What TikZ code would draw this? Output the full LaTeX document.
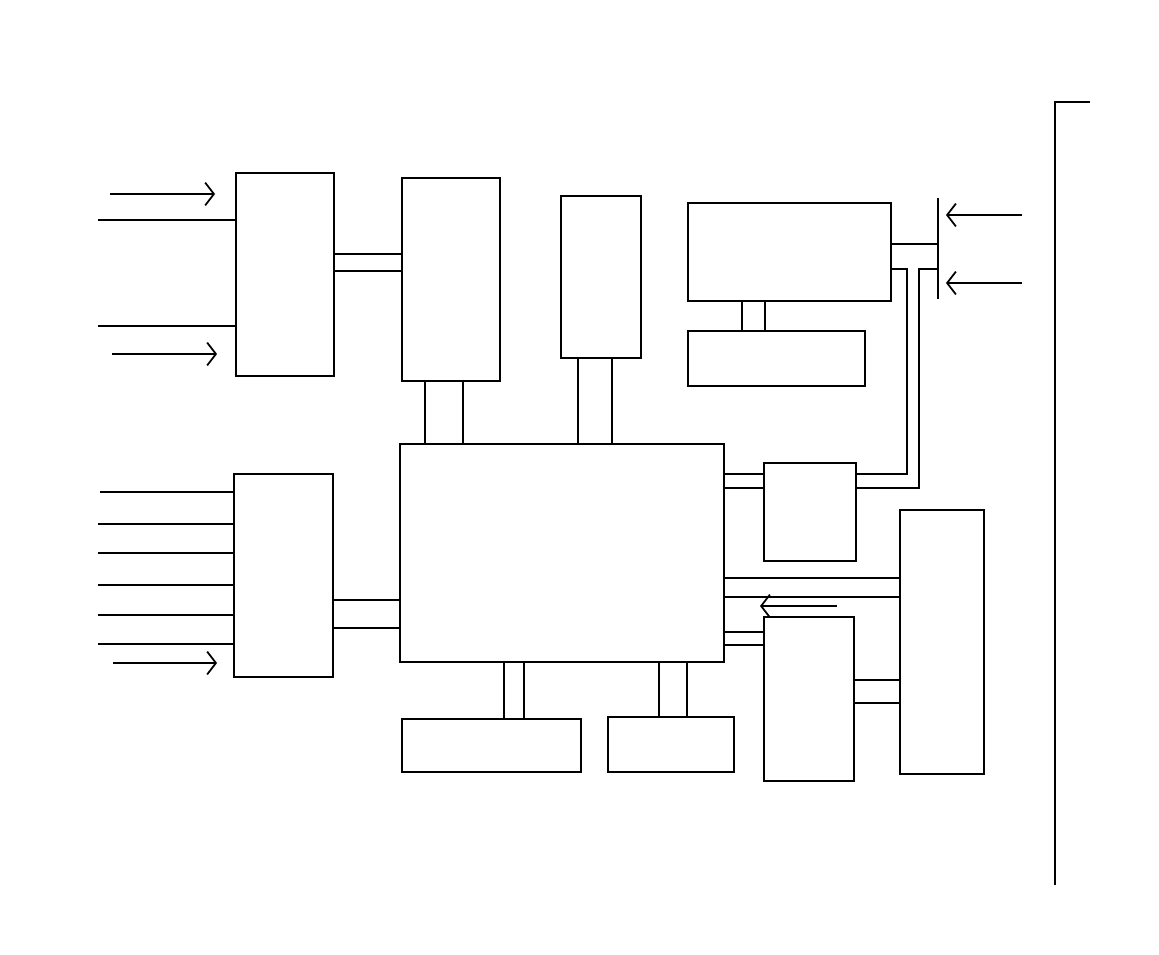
\documentclass[tikz,border=0pt]{standalone}
\usetikzlibrary{arrows.meta}
\tikzset{
  blocco/.style = {rectangle, draw, line width=1.1pt, fill=white, inner sep=0},
  link/.style   = {line width=1pt},
  ing/.style    = {line width=1pt, -{Straight Barb[length=5pt,width=13pt,line width=1pt]}}
}

\begin{document}
\begin{tikzpicture}[x=0.02cm, y=-0.02cm]
  \useasboundingbox (0,0) rectangle (1159,954);
  % blocchi
  \node[blocco, minimum width=1.96cm, minimum height=4.06cm] (A) at (285,274.5) {};
  \node[blocco, minimum width=1.96cm, minimum height=4.06cm] (B) at (451,279.5) {};
  \node[blocco, minimum width=1.60cm, minimum height=3.24cm] (C) at (601,277) {};
  \node[blocco, minimum width=4.06cm, minimum height=1.96cm] (D) at (789.5,252) {};
  \node[blocco, minimum width=3.54cm, minimum height=1.10cm] (E) at (776.5,358.5) {};
  \node[blocco, minimum width=6.48cm, minimum height=4.36cm] (M) at (562,553) {};
  \node[blocco, minimum width=1.98cm, minimum height=4.06cm] (F) at (283.5,575.5) {};
  \node[blocco, minimum width=1.84cm, minimum height=1.96cm] (G) at (810,512) {};
  \node[blocco, minimum width=1.80cm, minimum height=3.28cm] (H) at (809,699) {};
  \node[blocco, minimum width=1.68cm, minimum height=5.28cm] (I) at (942,642) {};
  \node[blocco, minimum width=3.58cm, minimum height=1.06cm] (J) at (491.5,745.5) {};
  \node[blocco, minimum width=2.52cm, minimum height=1.10cm] (K) at (671,744.5) {};

  % ingressi a sinistra di A
  \coordinate (a1) at (110,194); \draw[ing, shorten >=0.4cm] (a1) -- (A.west |- a1);
  \coordinate (a2) at (98,220);  \draw[link] (a2) -- (A.west |- a2);
  \coordinate (a3) at (98,326);  \draw[link] (a3) -- (A.west |- a3);
  \coordinate (a4) at (112,354); \draw[ing, shorten >=0.36cm] (a4) -- (A.west |- a4);

  % ingressi a sinistra di F
  \coordinate (f0) at (100,492); \draw[link] (f0) -- (F.west |- f0);
  \foreach \yy [count=\i] in {524,553,585,615,644}{
    \coordinate (f\i) at (98,\yy); \draw[link] (f\i) -- (F.west |- f\i);
  }
  \coordinate (f6) at (113,663); \draw[ing, shorten >=0.32cm] (f6) -- (F.west |- f6);

  % collegamenti doppi
  \draw[link] (A.east |- 0,254) -- (B.west |- 0,254);
  \draw[link] (A.east |- 0,271) -- (B.west |- 0,271);
  \draw[link] (B.south -| 425,0) -- (M.north -| 425,0);
  \draw[link] (B.south -| 463,0) -- (M.north -| 463,0);
  \draw[link] (C.south -| 578,0) -- (M.north -| 578,0);
  \draw[link] (C.south -| 612,0) -- (M.north -| 612,0);
  \draw[link] (D.south -| 742,0) -- (E.north -| 742,0);
  \draw[link] (D.south -| 765,0) -- (E.north -| 765,0);
  \draw[link] (F.east |- 0,600) -- (M.west |- 0,600);
  \draw[link] (F.east |- 0,628) -- (M.west |- 0,628);
  \draw[link] (M.east |- 0,474) -- (G.west |- 0,474);
  \draw[link] (M.east |- 0,488) -- (G.west |- 0,488);
  \draw[link] (M.east |- 0,578) -- (I.west |- 0,578);
  \draw[link] (M.east |- 0,597) -- (I.west |- 0,597);
  \draw[link] (M.east |- 0,632) -- (H.west |- 0,632);
  \draw[link] (M.east |- 0,645) -- (H.west |- 0,645);
  \draw[link] (H.east |- 0,680) -- (I.west |- 0,680);
  \draw[link] (H.east |- 0,703) -- (I.west |- 0,703);
  \draw[link] (M.south -| 504,0) -- (J.north -| 504,0);
  \draw[link] (M.south -| 524,0) -- (J.north -| 524,0);
  \draw[link] (M.south -| 659,0) -- (K.north -| 659,0);
  \draw[link] (M.south -| 687,0) -- (K.north -| 687,0);

  % freccia di ritorno verso M
  \coordinate (r1) at (837,606); \coordinate (r2) at (760,606);
  \draw[ing] (r1) -- (r2);

  % barra e ingressi a destra
  \coordinate (bt) at (938,198); \coordinate (bb) at (938,299);
  \draw[link] (bt) -- (bb);
  \coordinate (d1) at (1022,215); \draw[ing, shorten >=0.16cm] (d1) -- (bt |- d1);
  \coordinate (d2) at (1022,283); \draw[ing, shorten >=0.16cm] (d2) -- (bt |- d2);
  \draw[link] (D.east |- 0,244) -- (bt |- 0,244);
  \draw[link] (D.east |- 0,269) -- (907,269) -- (907,474) -- (G.east |- 0,474);
  \draw[link] (bt |- 0,269) -- (919,269) -- (919,488) -- (G.east |- 0,488);

  % cornice
  \coordinate (c1) at (1090,102); \coordinate (c2) at (1055,102); \coordinate (c3) at (1055,885);
  \draw[link] (c1) -- (c2) -- (c3);
\end{tikzpicture}
\end{document}
